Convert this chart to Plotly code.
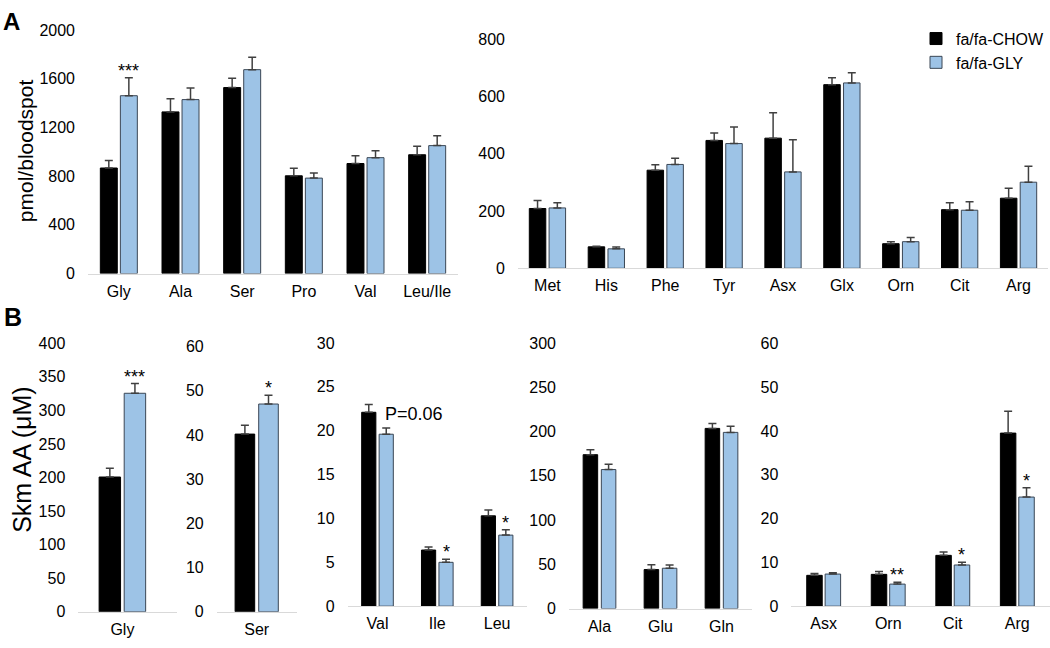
import plotly.graph_objects as go

# ---------------- data ----------------
a1_cats = ["Gly", "Ala", "Ser", "Pro", "Val", "Leu/Ile"]
a1_chow = [867, 1328, 1528, 803, 904, 976]
a1_chow_err = [62, 107, 77, 61, 64, 69]
a1_gly = [1461, 1429, 1675, 784, 952, 1051]
a1_gly_err = [147, 96, 101, 43, 56, 82]
a1_sig = ["***", "", "", "", "", ""]
a1_ticks = [0, 400, 800, 1200, 1600, 2000]

a2_cats = ["Met", "His", "Phe", "Tyr", "Asx", "Glx", "Orn", "Cit", "Arg"]
a2_chow = [209, 75, 343, 447, 455, 642, 86, 205, 245]
a2_chow_err = [28, 2, 19, 26, 89, 24, 7, 24, 35]
a2_gly = [211, 68, 363, 436, 337, 648, 93, 203, 301]
a2_gly_err = [18, 6, 22, 58, 112, 36, 15, 30, 56]
a2_sig = [""] * 9
a2_ticks = [0, 200, 400, 600, 800]

b1_cats = ["Gly"]
b1_chow = [200.7]
b1_chow_err = [13]
b1_gly = [325.5]
b1_gly_err = [14.5]
b1_sig = ["***"]
b1_ticks = [0, 50, 100, 150, 200, 250, 300, 350, 400]

b2_cats = ["Ser"]
b2_chow = [40.2]
b2_chow_err = [2.0]
b2_gly = [47.0]
b2_gly_err = [2.0]
b2_sig = ["*"]
b2_ticks = [0, 10, 20, 30, 40, 50, 60]

b3_cats = ["Val", "Ile", "Leu"]
b3_chow = [22.1, 6.4, 10.3]
b3_chow_err = [0.9, 0.35, 0.65]
b3_gly = [19.6, 5.0, 8.1]
b3_gly_err = [0.7, 0.35, 0.6]
b3_sig = ["P=0.06", "*", "*"]
b3_ticks = [0, 5, 10, 15, 20, 25, 30]

b4_cats = ["Ala", "Glu", "Gln"]
b4_chow = [173.8, 44, 203.5]
b4_chow_err = [5.5, 5.5, 5.5]
b4_gly = [157, 45.5, 199]
b4_gly_err = [6, 3.7, 7]
b4_sig = ["", "", ""]
b4_ticks = [0, 50, 100, 150, 200, 250, 300]

b5_cats = ["Asx", "Orn", "Cit", "Arg"]
b5_chow = [7.04, 7.26, 11.6, 39.5]
b5_chow_err = [0.4, 0.65, 0.75, 5.0]
b5_gly = [7.33, 5.04, 9.4, 24.9]
b5_gly_err = [0.3, 0.4, 0.6, 2.1]
b5_sig = ["", "**", "*", "*"]
b5_ticks = [0, 10, 20, 30, 40, 50, 60]

series_names = ["fa/fa-CHOW", "fa/fa-GLY"]

# ---------------- layout / style ----------------
W, H = 1050, 648
FONT = "Liberation Sans, Arial, sans-serif"
BLACK = "#000000"
BLUE = "#9DC3E6"
OUTLINE = "#3a4655"
ERRC = "#404040"

# pixel boxes: x0, x1, y_top(max tick), y_bottom(zero); bar width, gap (category units), x range
panels = [
    dict(c=a1_cats, k=a1_chow, ke=a1_chow_err, g=a1_gly, ge=a1_gly_err, s=a1_sig, t=a1_ticks,
         box=(88, 458, 22.7, 272.7), w=0.275, gap=0.05, xr=None),
    dict(c=a2_cats, k=a2_chow, ke=a2_chow_err, g=a2_gly, ge=a2_gly_err, s=a2_sig, t=a2_ticks,
         box=(518, 1048, 32.3, 267.3), w=0.28, gap=0.056, xr=None),
    dict(c=b1_cats, k=b1_chow, ke=b1_chow_err, g=b1_gly, ge=b1_gly_err, s=b1_sig, t=b1_ticks,
         box=(78.3, 176.7, 344.3, 620), w=0.218, gap=0.037, xr=[-0.448, 0.552]),
    dict(c=b2_cats, k=b2_chow, ke=b2_chow_err, g=b2_gly, ge=b2_gly_err, s=b2_sig, t=b2_ticks,
         box=(216.7, 296.7, 347.7, 620), w=0.245, gap=0.05, xr=None),
    dict(c=b3_cats, k=b3_chow, ke=b3_chow_err, g=b3_gly, ge=b3_gly_err, s=b3_sig, t=b3_ticks,
         box=(347.6, 527, 344, 614.3), w=0.237, gap=0.055, xr=None),
    dict(c=b4_cats, k=b4_chow, ke=b4_chow_err, g=b4_gly, ge=b4_gly_err, s=b4_sig, t=b4_ticks,
         box=(569, 752, 344, 616.7), w=0.238, gap=0.06, xr=None),
    dict(c=b5_cats, k=b5_chow, ke=b5_chow_err, g=b5_gly, ge=b5_gly_err, s=b5_sig, t=b5_ticks,
         box=(791.4, 1049.6, 344.3, 614.3), w=0.24, gap=0.045, xr=None),
]

fig = go.Figure()
layout = dict(
    width=W, height=H,
    margin=dict(l=0, r=0, t=0, b=0),
    paper_bgcolor="white", plot_bgcolor="white",
    barmode="overlay",
    font=dict(family=FONT, size=16, color="#000000"),
    showlegend=True,
    legend=dict(x=916 / W, y=1 - 14 / H, xanchor="left", yanchor="top",
                font=dict(family=FONT, size=16, color="#000000"),
                bgcolor="rgba(0,0,0,0)", itemwidth=30, tracegroupgap=0),
)
annotations = []

for i, p in enumerate(panels):
    n = i + 1
    xa = "x" if n == 1 else f"x{n}"
    ya = "y" if n == 1 else f"y{n}"
    x0, x1, yt, yb = p["box"]
    w, gap = p["w"], p["gap"]
    nc = len(p["c"])
    for j, (vals, errs, col, lc) in enumerate([(p["k"], p["ke"], BLACK, BLACK),
                                               (p["g"], p["ge"], BLUE, OUTLINE)]):
        off = -(w + gap / 2) if j == 0 else gap / 2
        fig.add_trace(go.Bar(
            x=p["c"], y=vals, name=series_names[j],
            offset=off, width=w,
            marker=dict(color=col, line=dict(color=lc, width=1)),
            error_y=dict(type="data", symmetric=False, array=errs, arrayminus=[0] * nc,
                         color=ERRC, thickness=1.5, width=4),
            xaxis=xa, yaxis=ya, showlegend=(n == 1), legendgroup=series_names[j],
            hoverinfo="skip",
        ))
    # significance labels above the GLY bars
    for ci, lab in enumerate(p["s"]):
        if not lab:
            continue
        xc = ci + gap / 2 + w / 2
        ytop = p["g"][ci] + p["ge"][ci]
        if lab.startswith("P"):
            annotations.append(dict(x=xc, y=ytop, xref=xa, yref=ya, text=lab, showarrow=False,
                                    xanchor="left", yanchor="bottom", xshift=-3, yshift=2,
                                    font=dict(family=FONT, size=18, color="#000000")))
        else:
            annotations.append(dict(x=xc, y=ytop, xref=xa, yref=ya, text=lab, showarrow=False,
                                    xanchor="center", yanchor="bottom", yshift=-5,
                                    font=dict(family=FONT, size=18, color="#000000")))
    xr = p["xr"] if p["xr"] is not None else [-0.5, nc - 0.5]
    layout["xaxis" if n == 1 else f"xaxis{n}"] = dict(
        domain=[x0 / W, x1 / W], anchor=ya, type="category", range=xr,
        showline=True, linecolor="#d9d9d9", linewidth=1, showgrid=False, zeroline=False,
        ticks="", ticklabelstandoff=3, tickfont=dict(family=FONT, size=16, color="#000000"),
        fixedrange=True,
    )
    layout["yaxis" if n == 1 else f"yaxis{n}"] = dict(
        domain=[1 - yb / H, 1 - yt / H], anchor=xa, range=[0, p["t"][-1]],
        tickvals=p["t"], showline=False, showgrid=False, zeroline=False,
        ticks="", ticklabelstandoff=12, tickfont=dict(family=FONT, size=16, color="#000000"),
        fixedrange=True,
    )

# axis titles and panel letters
annotations += [
    dict(x=25 / W, y=1 - 147 / H, xref="paper", yref="paper", text="pmol/bloodspot",
         textangle=-90, showarrow=False, xanchor="center", yanchor="middle",
         font=dict(family=FONT, size=21, color="#000000")),
    dict(x=22 / W, y=1 - 464 / H, xref="paper", yref="paper", text="Skm AA (μM)",
         textangle=-90, showarrow=False, xanchor="center", yanchor="middle",
         font=dict(family=FONT, size=25, color="#000000")),
    dict(x=1 / W, y=1 - 14 / H, xref="paper", yref="paper", text="<b>A</b>", xanchor="left",
         yanchor="middle", showarrow=False, font=dict(family=FONT, size=24, color="#000000")),
    dict(x=2 / W, y=1 - 317 / H, xref="paper", yref="paper", text="<b>B</b>", xanchor="left",
         yanchor="middle", showarrow=False, font=dict(family=FONT, size=25, color="#000000")),
]
layout["annotations"] = annotations
fig.update_layout(**layout)
fig.write_html("out.html", config={"displayModeBar": False},
               post_script="document.body.style.margin='0px';document.body.style.overflow='hidden';")
